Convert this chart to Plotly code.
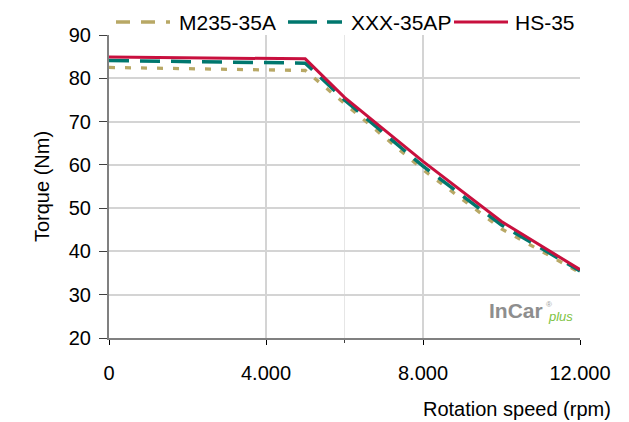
import plotly.graph_objects as go

speed = [0, 5000, 6000, 8000, 10000, 12000]
m235 = [82.5, 81.8, 74.2, 58.9, 45.2, 35.1]
xxx = [84.1, 83.5, 75.0, 59.7, 46.1, 35.5]
hs35 = [84.9, 84.5, 75.6, 60.8, 46.9, 35.8]

series_names = ["M235-35A", "XXX-35AP", "HS-35"]
series_colors = ["#B8A865", "#00776E", "#C8103E"]
x_tickvals = [0, 4000, 8000, 12000]
x_ticktext = ["0", "4.000", "8.000", "12.000"]
y_tickvals = [20, 30, 40, 50, 60, 70, 80, 90]

FONT = "Liberation Sans, Arial, sans-serif"

fig = go.Figure()
fig.add_trace(go.Scatter(x=speed, y=m235, mode="lines", name=series_names[0],
                         line=dict(color=series_colors[0], width=3.3, dash="6px,10px")))
fig.add_trace(go.Scatter(x=speed, y=xxx, mode="lines", name=series_names[1],
                         line=dict(color=series_colors[1], width=3.5, dash="20px,11px")))
fig.add_trace(go.Scatter(x=speed, y=hs35, mode="lines", name=series_names[2],
                         line=dict(color=series_colors[2], width=3)))

fig.update_layout(
    width=629, height=422,
    margin=dict(l=109, r=49, t=35, b=84, autoexpand=False),
    paper_bgcolor="white", plot_bgcolor="white",
    font=dict(family=FONT, size=20, color="#000000"),
    showlegend=False,
)

fig.update_xaxes(
    range=[0, 12000], tickvals=x_tickvals, ticktext=x_ticktext,
    showgrid=True, gridcolor="#D4D4D4", gridwidth=1.5,
    showline=True, linecolor="#808080", linewidth=2,
    ticks="outside", ticklen=5, tickcolor="#000000", tickwidth=1,
    ticklabelstandoff=11,
    zeroline=False,
    minor=dict(tickvals=[6000], showgrid=True, gridcolor="#E6E6E6", gridwidth=1,
               ticks="outside", ticklen=3, tickcolor="#404040"),
)
fig.update_yaxes(
    range=[20, 90], tickvals=y_tickvals,
    showgrid=True, gridcolor="#D4D4D4", gridwidth=1.5,
    showline=True, linecolor="#808080", linewidth=2,
    ticks="outside", ticklen=8, tickcolor="#404040", tickwidth=1,
    ticklabelstandoff=4,
    zeroline=False,
    title=dict(text="Torque (Nm)", font=dict(size=20), standoff=14),
)

def px_x(px):
    return (px - 109) / 471.0

def px_y(py):
    return (338 - py) / 303.0

# Legend (drawn manually to match the reference's wide sample lines)
legend_y = px_y(22)
legend_items = [
    (116, 170, "14px,11px", 3.3, 177),
    (288, 342, "29px,10px", 3.5, 349),
    (454, 508, "solid", 3.2, 513),
]
for (x0, x1, dash, w, tx), name, color in zip(legend_items, series_names, series_colors):
    fig.add_shape(type="line", xref="paper", yref="paper",
                  x0=px_x(x0), x1=px_x(x1), y0=legend_y, y1=legend_y,
                  line=dict(color=color, width=w, dash=dash))
    fig.add_annotation(text=name, xref="paper", yref="paper",
                       x=px_x(tx), y=px_y(22.5), xanchor="left", yanchor="middle",
                       showarrow=False, font=dict(size=21, family=FONT))

fig.add_annotation(
    text="Rotation speed (rpm)", xref="paper", yref="paper",
    x=px_x(613), y=px_y(409), xanchor="right", yanchor="middle", showarrow=False,
    font=dict(size=20, family=FONT),
)
fig.add_annotation(
    text="<b>InCar</b>", xref="paper", yref="paper",
    x=px_x(545), y=px_y(310), xanchor="right", yanchor="middle", showarrow=False,
    font=dict(size=21, family=FONT, color="#8E8E8E"),
)
fig.add_annotation(
    text="®", xref="paper", yref="paper",
    x=px_x(549), y=px_y(304), xanchor="center", yanchor="middle", showarrow=False,
    font=dict(size=8, family=FONT, color="#A0A0A0"),
)
fig.add_annotation(
    text="<i>plus</i>", xref="paper", yref="paper",
    x=px_x(546), y=px_y(316), xanchor="left", yanchor="middle", showarrow=False,
    font=dict(size=13, family=FONT, color="#7DC242"),
)

fig.write_html("out.html")
